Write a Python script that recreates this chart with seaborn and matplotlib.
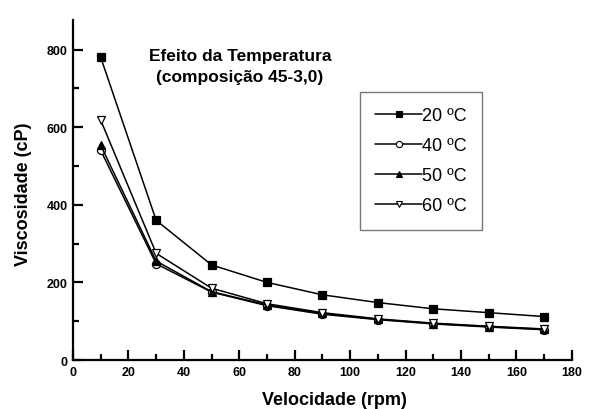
import matplotlib
matplotlib.use("Agg")
import matplotlib.pyplot as plt
import seaborn as sns
import pandas as pd
from matplotlib.ticker import MultipleLocator
from matplotlib.lines import Line2D

rpm = [10, 30, 50, 70, 90, 110, 130, 150, 170]
visc_20 = [780, 360, 245, 200, 168, 148, 132, 122, 112]
visc_40 = [540, 248, 175, 140, 118, 104, 93, 85, 78]
visc_50 = [553, 255, 176, 142, 120, 105, 94, 86, 79]
visc_60 = [618, 275, 185, 145, 122, 106, 95, 87, 80]
labels = ["20 ºC", "40 ºC", "50 ºC", "60 ºC"]

sns.set_theme(style="white")
plt.rcParams['font.family'] = ['Liberation Sans', 'DejaVu Sans']
plt.rcParams['text.color'] = 'black'
plt.rcParams['axes.labelcolor'] = 'black'
plt.rcParams['xtick.color'] = 'black'
plt.rcParams['ytick.color'] = 'black'

fig = plt.figure(figsize=(6.0, 4.1), dpi=100)
ax = fig.add_axes([0.1217, 0.1195, 0.953 - 0.1217, 0.9495 - 0.1195])

series = [visc_20, visc_40, visc_50, visc_60]
styles = [("s", "black"), ("o", "white"), ("^", "black"), ("v", "white")]
handles = []
for vals, lab, (mk, fc) in zip(series, labels, styles):
    df = pd.DataFrame({"rpm": rpm, "v": vals})
    sns.lineplot(data=df, x="rpm", y="v", ax=ax, color="black", lw=1.1,
                 marker=mk, markersize=5.8, markerfacecolor=fc,
                 markeredgecolor="black", markeredgewidth=0.9)
    handles.append(Line2D([], [], color="black", lw=1.1, marker=mk, markersize=4.5,
                          markerfacecolor=fc, markeredgecolor="black",
                          markeredgewidth=0.8))

ax.set_xlim(0, 180)
ax.set_ylim(0, 877)
ax.xaxis.set_major_locator(MultipleLocator(20))
ax.xaxis.set_minor_locator(MultipleLocator(10))
ax.yaxis.set_major_locator(MultipleLocator(200))
ax.yaxis.set_minor_locator(MultipleLocator(100))
for s in ["top", "right"]:
    ax.spines[s].set_visible(False)
for s in ["left", "bottom"]:
    ax.spines[s].set_linewidth(1.6)
    ax.spines[s].set_color("black")
ax.tick_params(which="major", direction="in", length=7, width=1.6, labelsize=9,
               pad=4, colors="black")
ax.tick_params(which="minor", direction="in", length=4, width=1.6)
ax.tick_params(axis="both", which="both", left=True, bottom=True)
for t in ax.get_xticklabels() + ax.get_yticklabels():
    t.set_fontweight("bold")

ax.set_xlabel("Velocidade (rpm)", fontsize=13, fontweight="bold")
ax.set_ylabel("Viscosidade (cP)", fontsize=13, fontweight="bold")
ax.xaxis.set_label_coords(0.525, -0.09)
ax.yaxis.set_label_coords(-0.083, 0.49)

ax.text(0.335, 0.865, "Efeito da Temperatura\n(composição 45-3,0)",
        transform=ax.transAxes, ha="center", va="center", fontsize=12.5,
        fontweight="bold", linespacing=1.5)

leg = ax.legend(handles, labels, loc="upper left", bbox_to_anchor=(0.575, 0.7875),
                frameon=True, fancybox=False, fontsize=13, handlelength=2.6,
                handletextpad=0.0, labelspacing=0.72, borderpad=0.85,
                borderaxespad=0)
leg.get_frame().set_edgecolor("#555555")
leg.get_frame().set_linewidth(1.0)

fig.savefig("out.png", dpi=100)
